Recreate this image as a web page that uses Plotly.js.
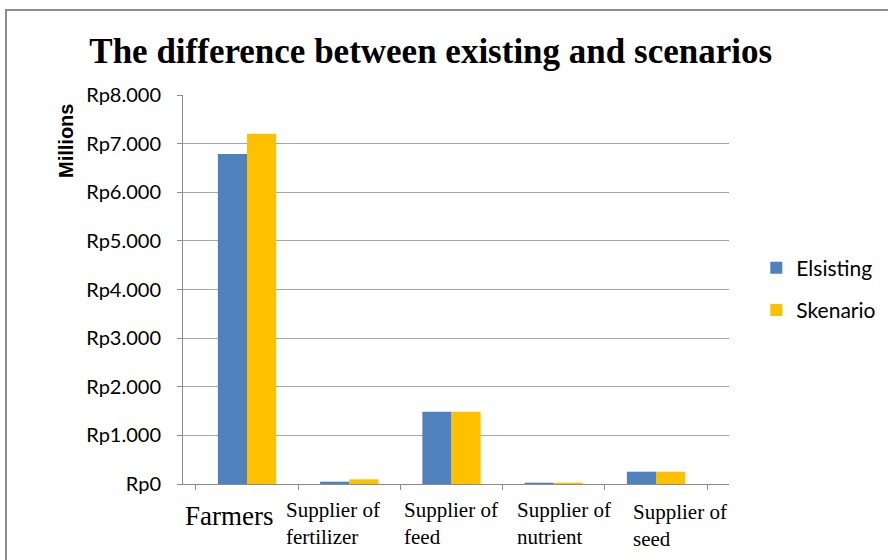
<!DOCTYPE html>
<html><head><meta charset="utf-8">
<script src="https://cdn.plot.ly/plotly-3.0.1.min.js"></script>
<style>
body{margin:0;padding:0;background:#fff;}
#wrap{position:relative;width:888px;height:560px;overflow:hidden;}
#chart{width:888px;height:560px;}
#frame{position:absolute;left:5px;top:9px;width:1000px;height:700px;border:2px solid #8c8c8c;pointer-events:none;}
</style></head>
<body>
<div id="wrap"><div id="chart"></div><div id="frame"></div></div>
<script>
const categories = ["Farmers", "Supplier of fertilizer", "Supplier of feed", "Supplier of nutrient", "Supplier of seed"];
const categoryLabels = ["Farmers", "Supplier of<br>fertilizer", "Supplier of<br>feed", "Supplier of<br>nutrient", "Supplier of<br>seed"];
const existing = [6785, 48, 1486, 27, 253];
const scenario = [7205, 96, 1486, 27, 253];
const seriesNames = ["Elsisting", "Skenario"];
const yTickVals = [0, 1000, 2000, 3000, 4000, 5000, 6000, 7000, 8000];
const yTickText = ["Rp0", "Rp1.000", "Rp2.000", "Rp3.000", "Rp4.000", "Rp5.000", "Rp6.000", "Rp7.000", "Rp8.000"];

const labelShift = [-18, -16, -1, 10, 24];
const labelSize = [27, 21, 21, 21, 21];
const labelYShift = [-15, -12, -12, -12, -14];

const traces = [
  {type:"bar", name:seriesNames[0], x:categories, y:existing, marker:{color:"#4F81BD"}, legendgroup:"a"},
  {type:"bar", name:seriesNames[1], x:categories, y:scenario, marker:{color:"#FFC000"}, legendgroup:"b"}
];

const annotations = categories.map((c,i)=>({
  x:c, xref:"x", y:0, yref:"paper", yanchor:"top", xanchor:"center",
  text:categoryLabels[i], showarrow:false, align:"left",
  xshift:labelShift[i], yshift:labelYShift[i],
  font:{family:"Liberation Serif, Times New Roman, serif", size:labelSize[i], color:"#000"}
}));
annotations.push({
  text:"<b>Millions</b>", showarrow:false, textangle:-90,
  xref:"paper", yref:"paper", x:0, y:1, xanchor:"center", yanchor:"top",
  xshift:-117, yshift:-7,
  font:{family:"Liberation Sans, Arial, sans-serif", size:20, color:"#000"}
});

const layout = {
  width:888, height:560,
  margin:{l:183, r:159, t:95, b:76, pad:0, autoexpand:false},
  paper_bgcolor:"#fff", plot_bgcolor:"#fff",
  title:{text:"<b>The difference between existing and scenarios</b>", x:0.485, xanchor:"center", y:0.909, yanchor:"middle", yref:"container",
    font:{family:"Liberation Serif, Times New Roman, serif", size:35, color:"#000"}},
  barmode:"group", bargap:0.43, bargroupgap:0,
  xaxis:{type:"category", showticklabels:false, showline:true, linecolor:"#8c8c8c", linewidth:1,
    ticks:"outside", tickson:"boundaries", ticklen:5, tickcolor:"#8c8c8c", showgrid:false, fixedrange:true},
  yaxis:{range:[0,8000], tickvals:yTickVals, ticktext:yTickText, showline:true, linecolor:"#8c8c8c", linewidth:1,
    ticks:"outside", ticklen:5, tickcolor:"#8c8c8c", gridcolor:"#a6a6a6", gridwidth:1, zeroline:false,
    tickfont:{family:"Lato, Carlito, Calibri, sans-serif", size:20, color:"#000"}, ticklabelstandoff:12},
  legend:{x:1.05, y:0.501, xanchor:"left", yanchor:"middle", traceorder:"grouped", tracegroupgap:12,
    font:{family:"Lato, Carlito, Calibri, sans-serif", size:21, color:"#000"}, itemwidth:30},
  annotations:annotations,
  showlegend:true
};

Plotly.newPlot("chart", traces, layout, {displayModeBar:false, staticPlot:true});
</script>
</body></html>
